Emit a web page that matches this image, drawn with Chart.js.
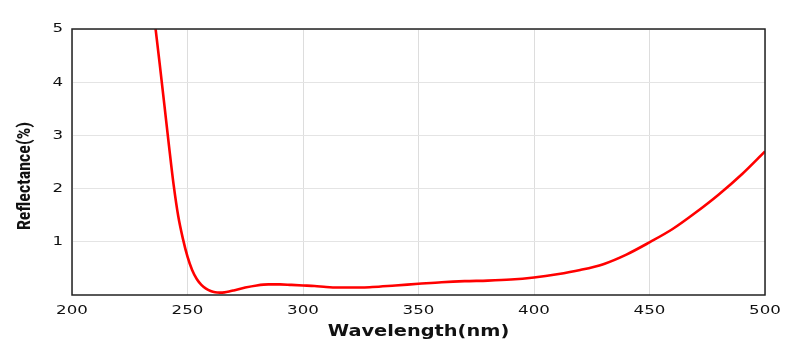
<!DOCTYPE html>
<html>
<head>
<meta charset="utf-8">
<script src="https://cdn.jsdelivr.net/npm/chart.js@4.4.1/dist/chart.umd.min.js"></script>
<style>
html,body{margin:0;padding:0;background:#fff;}
#wrap{width:790px;height:347px;position:relative;}
</style>
</head>
<body>
<div id="wrap"><canvas id="c" width="790" height="347"></canvas></div>
<script>
const wavelengths = [236, 238, 240, 242, 244, 246, 248, 250, 252, 254, 256, 258, 260, 262, 264, 266, 268, 270, 275, 280, 285, 290, 295, 300, 305, 310, 315, 320, 325, 330, 340, 350, 360, 370, 380, 390, 400, 410, 420, 430, 440, 450, 460, 470, 480, 490, 500];
const reflectance = [5.07, 4.33, 3.57, 2.8, 2.07, 1.48, 1.06, 0.72, 0.47, 0.3, 0.19, 0.12, 0.075, 0.05, 0.045, 0.05, 0.065, 0.085, 0.14, 0.18, 0.2, 0.2, 0.19, 0.18, 0.17, 0.15, 0.14, 0.14, 0.14, 0.15, 0.18, 0.21, 0.24, 0.26, 0.27, 0.29, 0.33, 0.39, 0.47, 0.58, 0.76, 0.99, 1.24, 1.55, 1.89, 2.27, 2.70];
const xTicks = [200, 250, 300, 350, 400, 450, 500];
const yTicks = [1, 2, 3, 4, 5];
const xTitle = 'Wavelength(nm)';
const yTitle = 'Reflectance(%)';

const points = wavelengths.map((w, i) => ({x: w, y: reflectance[i]}));

// draw text of a scale part horizontally widened around its anchor point
function widen(fn, sx, dy) {
  return function () {
    const c = this.ctx;
    const orig = CanvasRenderingContext2D.prototype.fillText;
    c.fillText = function (t, x, y) {
      this.save();
      this.translate(x, y);
      this.scale(sx, 1);
      orig.call(this, t, 0, 0);
      this.restore();
    };
    c.save();
    if (dy) c.translate(0, dy);
    try { fn.apply(this, arguments); } finally { c.restore(); delete c.fillText; }
  };
}

const frame = {
  id: 'frame',
  beforeDraw(chart) {
    const x = chart.scales.x, y = chart.scales.y;
    if (!x._wrapped) {
      x.drawLabels = widen(x.drawLabels, 1.28);
      x.drawTitle = widen(x.drawTitle, 1.29);
      x._wrapped = true;
    }
    if (!y._wrapped) {
      y.drawLabels = widen(y.drawLabels, 1.28);
      const oy = y.drawTitle;
      y.drawTitle = function () { const c = this.ctx; c.save(); c.translate(0, 14); oy.apply(this, arguments); c.restore(); };
      y._wrapped = true;
    }
  },
  afterDatasetsDraw(chart) {
    const {ctx, chartArea: a} = chart;
    ctx.save();
    ctx.strokeStyle = '#222';
    ctx.lineWidth = 1.5;
    ctx.strokeRect(a.left, a.top, a.right - a.left, a.bottom - a.top);
    ctx.restore();
  }
};

new Chart(document.getElementById('c'), {
  type: 'scatter',
  data: {
    datasets: [{
      data: points,
      showLine: true,
      borderColor: '#ff0000',
      borderWidth: 2.6,
      pointRadius: 0,
      fill: false,
      cubicInterpolationMode: 'monotone'
    }]
  },
  options: {
    responsive: false,
    animation: false,
    layout: {padding: {left: 0, right: 25, top: 29, bottom: 0}},
    plugins: {legend: {display: false}, tooltip: {enabled: false}},
    scales: {
      x: {
        type: 'linear',
        min: 200, max: 500,
        afterBuildTicks: (s) => { s.ticks = xTicks.map(v => ({value: v})); },
        afterFit: (s) => { s.height = 52; },
        grid: {color: '#dddddd', lineWidth: 1, drawTicks: false},
        border: {display: false},
        ticks: {color: '#111', padding: 8, font: {family: 'DejaVu Sans', size: 13}},
        title: {display: true, text: xTitle, color: '#111', padding: {top: 0, bottom: 6}, font: {family: 'DejaVu Sans', weight: 'bold', size: 15}}
      },
      y: {
        min: 0, max: 5,
        afterBuildTicks: (s) => { s.ticks = yTicks.map(v => ({value: v})); },
        afterFit: (s) => { s.width = 72; },
        grid: {color: '#e4e4e4', lineWidth: 1, drawTicks: false},
        border: {display: false},
        ticks: {color: '#111', padding: 9, font: {family: 'DejaVu Sans', size: 13}},
        title: {display: true, text: yTitle, color: '#111', padding: {top: 15, bottom: 0}, font: {family: "'Liberation Sans Narrow', 'Roboto Condensed', sans-serif", weight: 'bold', size: 18}}
      }
    }
  },
  plugins: [frame]
});
</script>
</body>
</html>
